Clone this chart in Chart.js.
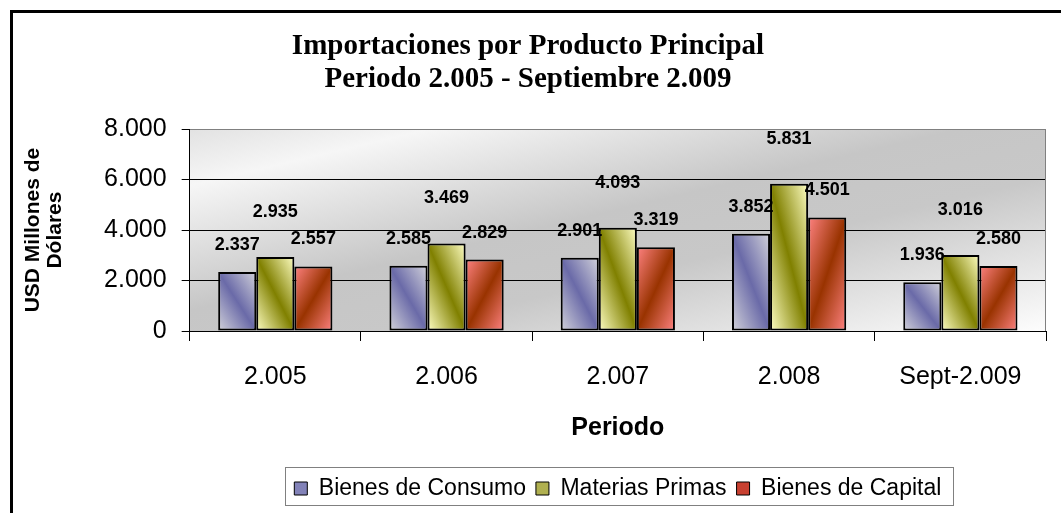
<!DOCTYPE html>
<html>
<head>
<meta charset="utf-8">
<script src="https://cdn.jsdelivr.net/npm/chart.js@4/dist/chart.umd.min.js"></script>
<style>
  body { margin: 0; background: #fff; }
  canvas { display: block; }
</style>
</head>
<body>
<canvas id="myChart" width="1061" height="513"></canvas>
<script>
const categories = ["2.005", "2.006", "2.007", "2.008", "Sept-2.009"];
const bienesConsumo = [2337, 2585, 2901, 3852, 1936];
const materiasPrimas = [2935, 3469, 4093, 5831, 3016];
const bienesCapital = [2557, 2829, 3319, 4501, 2580];
const seriesNames = ["Bienes de Consumo", "Materias Primas", "Bienes de Capital"];
const yTicks = [0, 2000, 4000, 6000, 8000];

const catPct = 0.667;
// light / dark colours of each bar gradient, and whether the band follows the main diagonal
const barColors = [
  { light: "#d2d2da", dark: "#6a6aa8", main: true },
  { light: "#ffffc4", dark: "#808000", main: true },
  { light: "#ff8282", dark: "#993300", main: false },
];
const legendColors = ["#8282b8", "#b0b050", "#c84030"];
const labelOffsets = [27, 45, 27];

const fmt = (v) => String(v).replace(/\B(?=(\d{3})+(?!\d))/g, ".");

function barFill(ctx) {
  const chart = ctx.chart;
  const c = barColors[ctx.datasetIndex];
  if (!chart.chartArea || ctx.type !== "data") return c.dark;
  const xs = chart.scales.x, ys = chart.scales.y;
  const n = chart.data.datasets.length;
  const w = (xs.width / chart.data.labels.length) * catPct / n;
  const cx = xs.getPixelForValue(ctx.dataIndex) + (ctx.datasetIndex - (n - 1) / 2) * w;
  const top = ys.getPixelForValue(ctx.raw);
  const base = ys.getPixelForValue(0);
  const h = base - top;
  const cy = (top + base) / 2;
  const L = Math.sqrt(w * w + h * h) || 1;
  const k = (w * h) / L;
  // unit normal to the diagonal the band runs along
  const nx = h / L, ny = c.main ? -w / L : w / L;
  const g = chart.ctx.createLinearGradient(cx - k * nx, cy - k * ny, cx + k * nx, cy + k * ny);
  g.addColorStop(0, c.light);
  g.addColorStop(0.5, c.dark);
  g.addColorStop(1, c.light);
  return g;
}

const decorPlugin = {
  id: "decor",
  afterLayout(chart) {
    // centre the legend under the plot area, like the original
    const lg = chart.legend;
    const a = chart.chartArea;
    const shift = (a.left + a.right) / 2 - (lg.left + lg.right) / 2;
    lg.left += shift;
    lg.right += shift;
  },
  beforeDraw(chart) {
    const ctx = chart.ctx;
    const a = chart.chartArea;
    ctx.save();
    ctx.fillStyle = "#fff";
    ctx.fillRect(0, 0, chart.width, chart.height);
    ctx.strokeStyle = "#000";
    ctx.lineWidth = 3;
    ctx.beginPath();
    ctx.moveTo(11.5, chart.height + 5);
    ctx.lineTo(11.5, 11.5);
    ctx.lineTo(chart.width + 5, 11.5);
    ctx.stroke();
    // plot area shading
    const cx = (a.left + a.right) / 2, cy = (a.top + a.bottom) / 2;
    const w = a.right - a.left, h = a.bottom - a.top;
    const L = Math.sqrt(w * w + h * h);
    const k = (w * h) / L;
    const ux = h / L, uy = w / L;
    const g = ctx.createLinearGradient(cx - k * ux, cy - k * uy, cx + k * ux, cy + k * uy);
    g.addColorStop(0, "#e2e2e2");
    g.addColorStop(0.14, "#f6f6f6");
    g.addColorStop(0.45, "#c6c6c6");
    g.addColorStop(0.62, "#c8c8c8");
    g.addColorStop(1, "#fdfdfd");
    ctx.fillStyle = g;
    ctx.fillRect(a.left, a.top, w, h);
    ctx.restore();
  },
  beforeDatasetsDraw(chart) {
    const ctx = chart.ctx;
    const a = chart.chartArea;
    ctx.save();
    ctx.strokeStyle = "#808080";
    ctx.lineWidth = 1;
    ctx.beginPath();
    ctx.moveTo(a.right - 0.5, a.top);
    ctx.lineTo(a.right - 0.5, a.bottom);
    ctx.stroke();
    ctx.restore();
  },
  afterDatasetsDraw(chart) {
    const ctx = chart.ctx;
    ctx.save();
    ctx.font = "bold 18px 'Liberation Sans', Arial, sans-serif";
    ctx.fillStyle = "#000";
    ctx.textAlign = "center";
    ctx.textBaseline = "middle";
    chart.data.datasets.forEach((ds, i) => {
      chart.getDatasetMeta(i).data.forEach((el, j) => {
        ctx.fillText(fmt(ds.data[j]), el.x, el.y - labelOffsets[i]);
      });
    });
    ctx.restore();
  },
  afterDraw(chart) {
    // box around the legend
    const lg = chart.legend;
    const pad = lg.options.labels.padding;
    const lineW = lg.lineWidths[0];
    const startX = (lg.left + pad + lg.right - lineW) / 2;
    const ctx = chart.ctx;
    ctx.save();
    ctx.strokeStyle = "#808080";
    ctx.lineWidth = 1;
    ctx.strokeRect(Math.round(startX - 9) + 0.5, Math.round(lg.top) + 0.5,
      Math.round(lineW - pad + 21), Math.round(lg.height - 5));
    ctx.restore();
  },
};

const seriesData = [bienesConsumo, materiasPrimas, bienesCapital];

new Chart(document.getElementById("myChart"), {
  type: "bar",
  data: {
    labels: categories,
    datasets: seriesData.map((d, i) => ({
      label: seriesNames[i],
      data: d,
      backgroundColor: barFill,
      borderColor: "#000",
      borderWidth: 2,
      borderSkipped: false,
      categoryPercentage: catPct,
      barPercentage: 1,
    })),
  },
  options: {
    responsive: false,
    animation: false,
    layout: { padding: { top: 10, left: 10, right: 15, bottom: 3 } },
    plugins: {
      title: {
        display: true,
        text: ["Importaciones por Producto Principal", "Periodo 2.005 - Septiembre 2.009"],
        color: "#000",
        font: { family: "'Liberation Serif', serif", size: 29, weight: "bold", lineHeight: 1.14 },
        padding: { top: 20, bottom: 33 },
      },
      legend: {
        position: "bottom",
        labels: {
          color: "#000",
          font: { family: "'Liberation Sans', Arial, sans-serif", size: 23 },
          boxWidth: 13,
          boxHeight: 13,
          padding: 10,
          generateLabels: (chart) =>
            chart.data.datasets.map((ds, i) => ({
              text: ds.label,
              fillStyle: legendColors[i],
              strokeStyle: "#000",
              lineWidth: 1,
              datasetIndex: i,
            })),
        },
      },
      tooltip: { enabled: false },
    },
    scales: {
      x: {
        offset: true,
        grid: { display: true, drawOnChartArea: false, drawTicks: true, tickLength: 10, color: "#000", offset: true },
        border: { display: true, color: "#000", width: 1 },
        ticks: {
          color: "#000",
          font: { family: "'Liberation Sans', Arial, sans-serif", size: 25 },
          padding: 21,
          maxRotation: 0,
        },
        title: {
          display: true,
          text: "Periodo",
          color: "#000",
          font: { family: "'Liberation Sans', Arial, sans-serif", size: 25, weight: "bold" },
          padding: { top: 0, bottom: 24 },
        },
      },
      y: {
        min: yTicks[0],
        max: yTicks[yTicks.length - 1],
        afterBuildTicks: (scale) => { scale.ticks = yTicks.map((v) => ({ value: v })); },
        grid: {
          color: (c) => (c.tick && c.tick.value === 8000 ? "#808080" : "#000"),
          tickColor: "#000",
          tickLength: 8,
        },
        border: { display: true, color: "#000", width: 1 },
        ticks: {
          color: "#000",
          font: { family: "'Liberation Sans', Arial, sans-serif", size: 25 },
          padding: 15,
          callback: (v) => fmt(v),
        },
        title: {
          display: true,
          text: ["USD Millones de", "Dólares"],
          color: "#000",
          font: { family: "'Liberation Sans', Arial, sans-serif", size: 21, weight: "bold", lineHeight: 1.05 },
          padding: { top: 12, bottom: 23 },
        },
      },
    },
  },
  plugins: [decorPlugin],
});
</script>
</body>
</html>
